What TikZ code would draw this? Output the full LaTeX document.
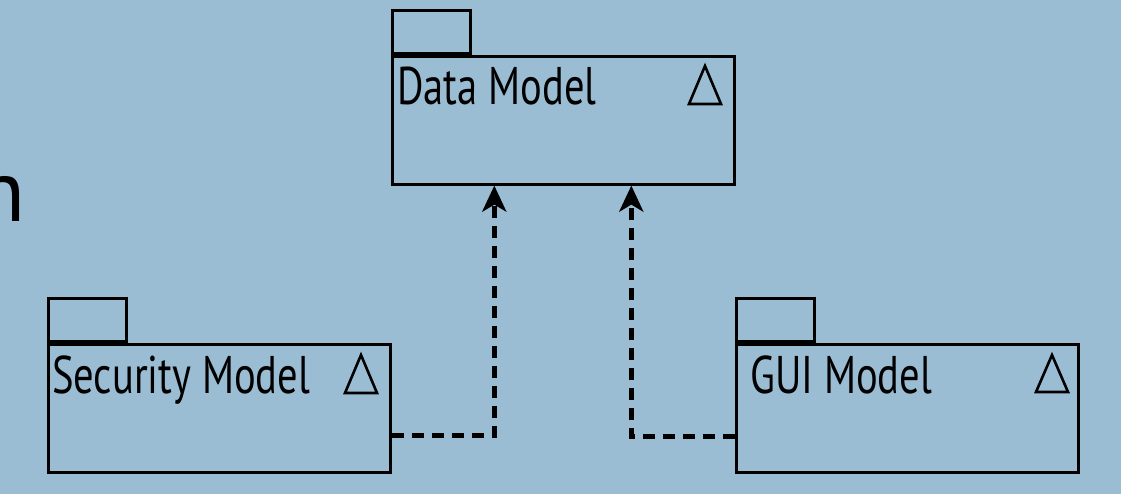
\documentclass[tikz,border=0pt]{standalone}
\usepackage{fontspec}
\setmainfont{PT Sans}
\newfontfamily\pkgfont[FakeStretch=0.765]{PT Sans}
\usetikzlibrary{arrows.meta,calc}
\definecolor{bgblue}{RGB}{154,189,212}
\begin{document}
\begin{tikzpicture}[x=1pt,y=-1pt,
  pkgbody/.style={draw=black,line width=2.6pt,minimum width=342pt,minimum height=128pt,anchor=north west,inner sep=0pt},
  pkgtab/.style={draw=black,line width=2.6pt,minimum width=78pt,minimum height=43pt,anchor=south west,inner sep=0pt},
  pkgname/.style={anchor=base west,inner sep=0pt,font=\pkgfont\fontsize{53}{53}\selectfont},
  marker/.style={line width=2.6pt,line join=miter},
  dep/.style={line width=4.5pt,dash pattern=on 12pt off 8pt,
    -{Stealth[length=26pt,width=24pt,inset=7pt]}}]
  \fill[bgblue] (0,0) rectangle (1121,494);
  \useasboundingbox (0,0) rectangle (1121,494);
  \clip (0,0) rectangle (1121,494);

  % heading letter running into the left border
  \node[anchor=base east,inner sep=0pt,font=\fontsize{88}{88}\selectfont] (hd) at (26,222) {n};

  % Data Model package
  \node[pkgbody] (dm) at (391,55) {};
  \node[pkgtab] (dmtab) at (dm.north west) {};
  \node[pkgname] (dmname) at (397,105) {Data Model};
  \draw[marker] (689,104) -- (705,66) -- (721,104) -- cycle;

  % Security Model package
  \node[pkgbody] (sm) at (47,343) {};
  \node[pkgtab] (smtab) at (sm.north west) {};
  \node[pkgname] (smname) at (52,393) {Security Model};
  \draw[marker] (345,393) -- (361,355) -- (377,393) -- cycle;

  % GUI Model package
  \node[pkgbody] (gm) at (735,343) {};
  \node[pkgtab] (gmtab) at (gm.north west) {};
  \node[pkgname] (gmname) at (750,393) {GUI Model};
  \draw[marker] (1036,392) -- (1052,355) -- (1068,392) -- cycle;

  % dependencies on the Data Model
  \draw[dep] ([yshift=38pt]sm.south east) -| ([xshift=-69pt]dm.south);
  \draw[dep] ([yshift=37pt]gm.south west) -| ([xshift=68pt]dm.south);
\end{tikzpicture}
\end{document}
